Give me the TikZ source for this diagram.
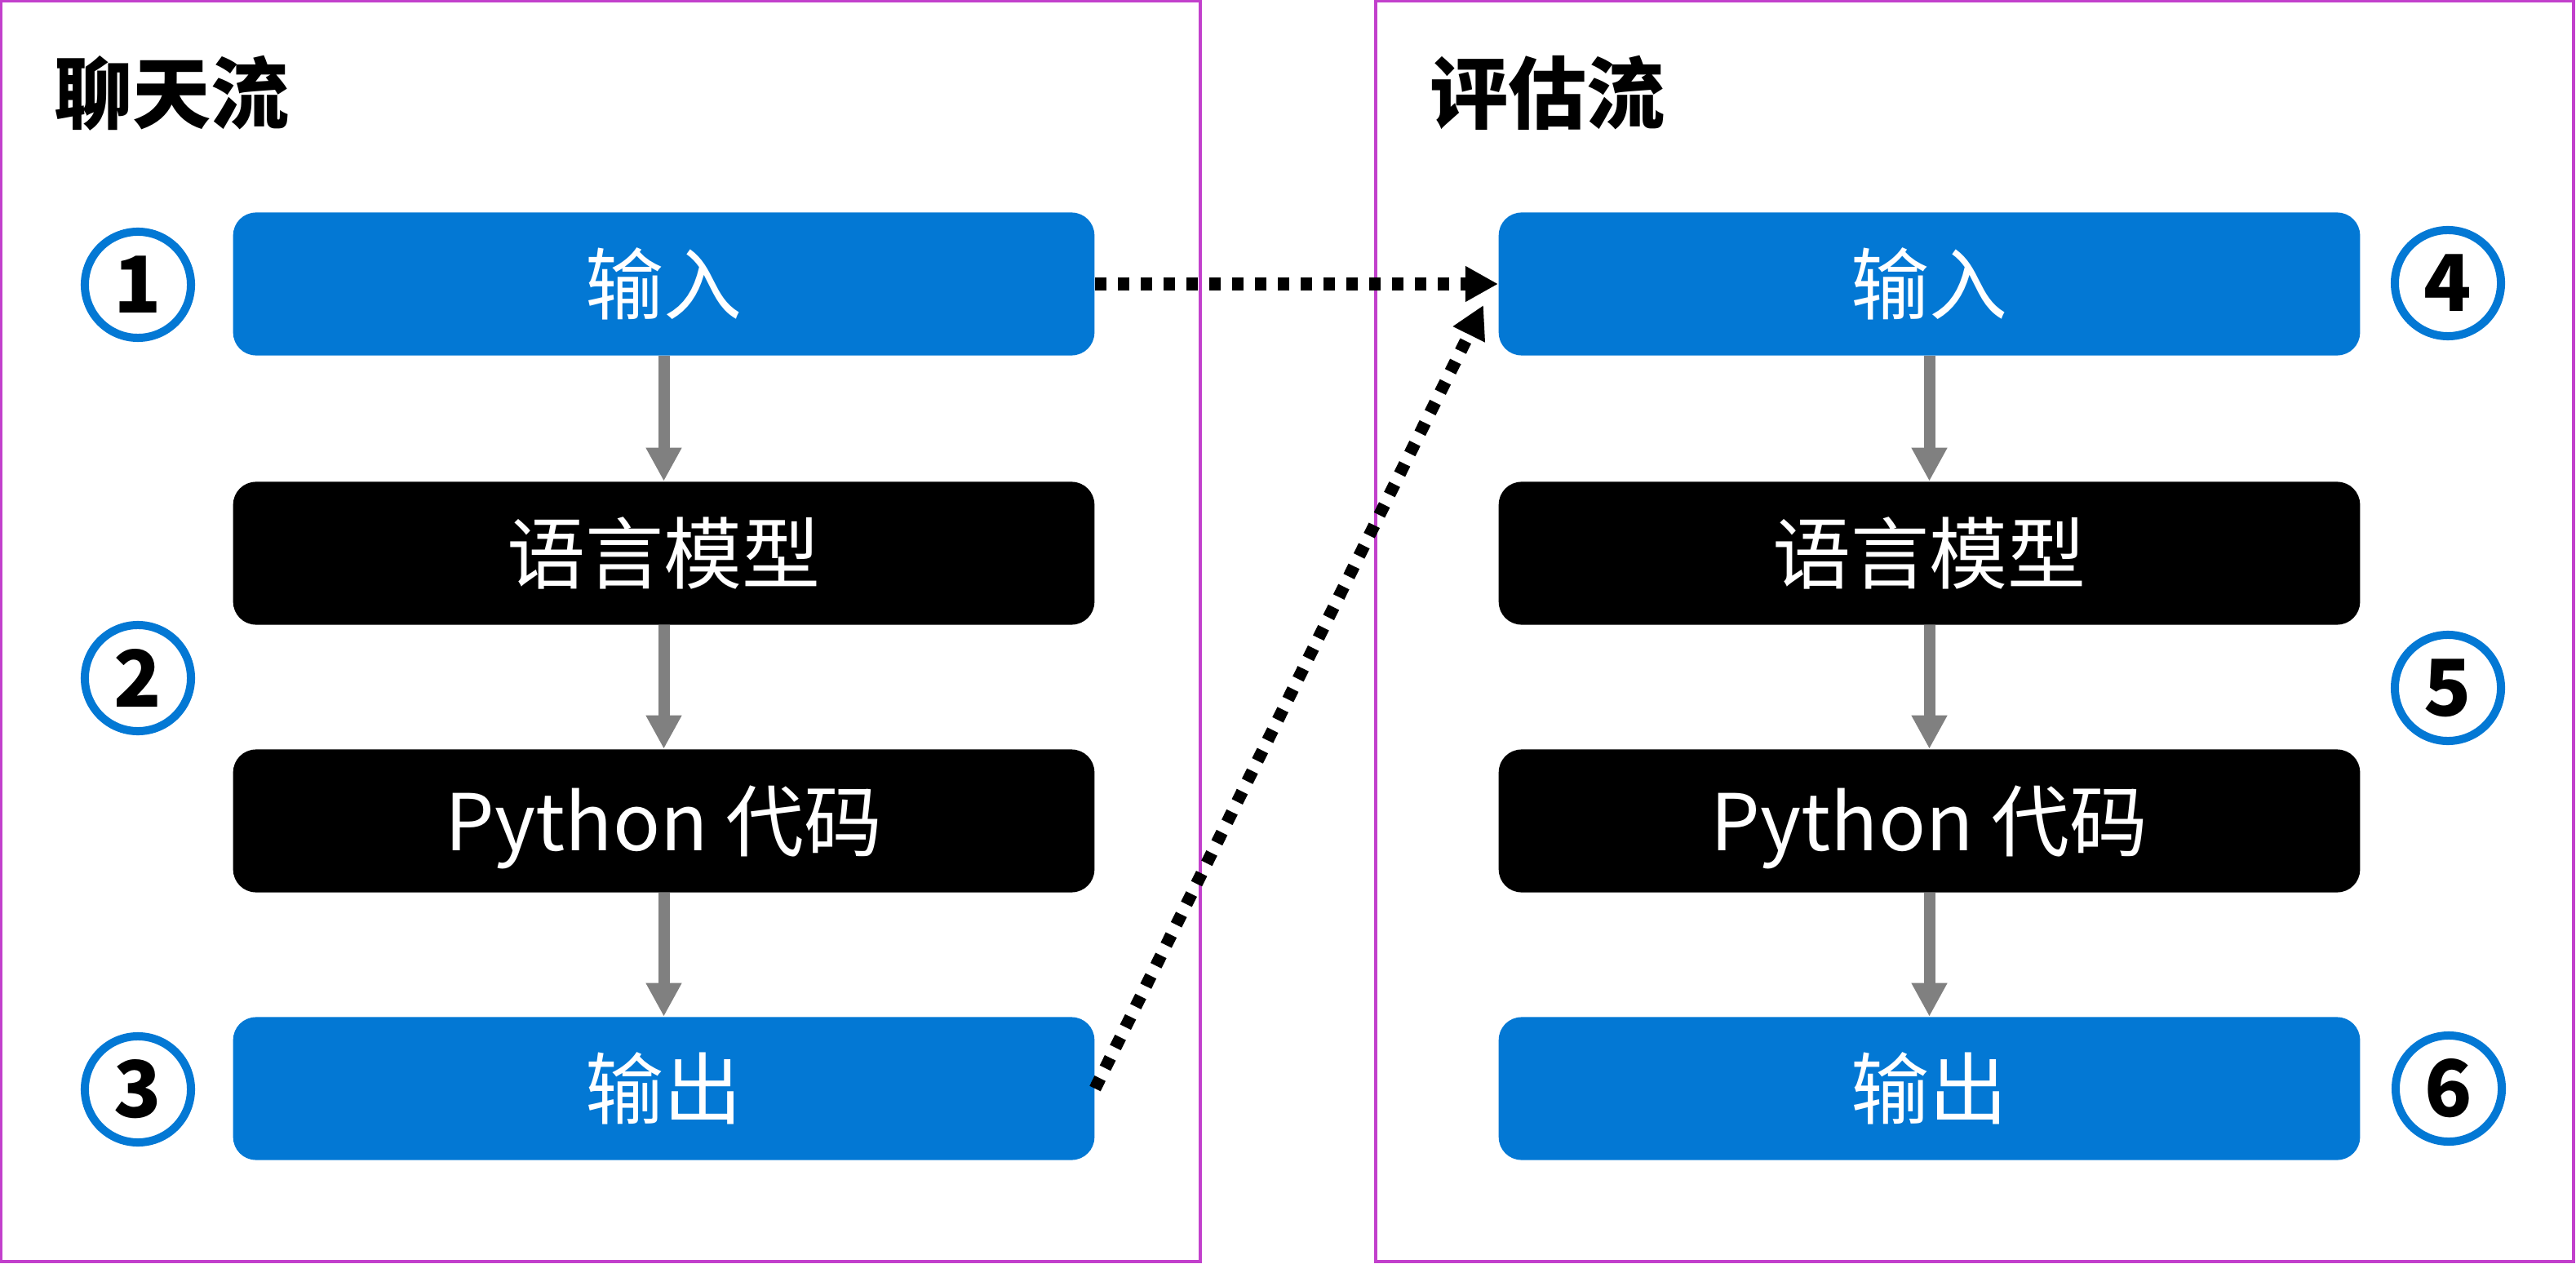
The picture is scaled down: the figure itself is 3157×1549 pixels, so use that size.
\documentclass[tikz,border=0pt]{standalone}
\usepackage{fontspec}
\setmainfont{Noto Sans CJK SC}
\usetikzlibrary{arrows.meta}
\definecolor{msblue}{RGB}{3,120,212}
\definecolor{framepink}{RGB}{194,64,204}
\definecolor{arrowgray}{RGB}{128,128,128}
\newcommand{\boxfont}{\fontsize{27.3}{32}\selectfont}
\tikzset{
	bluestyle/.style={rectangle,rounded corners=0.28cm,fill=msblue,text=white,minimum width=10.55cm,minimum height=1.75cm,text height=21.5pt,text depth=0.5pt,font=\boxfont},
	blackstyle/.style={bluestyle,fill=black},
	numstyle/.style={circle,draw=msblue,line width=0.1cm,fill=white,minimum size=1.3cm,inner sep=0,font=\bfseries\boxfont},
	titlestyle/.style={anchor=west,inner sep=0,font=\bfseries\boxfont},
	framestyle/.style={draw=framepink,line width=0.035cm},
	flowstyle/.style={draw=arrowgray,line width=0.14cm,-{Triangle[length=0.41cm,width=0.41cm]}},
	dotstyle/.style={draw=black,line width=0.15cm,dash pattern=on 0.14cm off 0.14cm,-{Triangle[length=0.4cm,width=0.41cm]}}
}
\begin{document}
\begin{tikzpicture}[x=0.01cm,y=-0.01cm]
	\useasboundingbox (0,0) rectangle (3157,1549);
	\draw[framestyle] (1.5,1.5) rectangle (1471,1546);
	\draw[framestyle] (1686,1.5) rectangle (3154,1546);
	\node[titlestyle] (ta) at (66,114) {聊天流};
	\node[titlestyle] (tb) at (1752,114) {评估流};
	\node[bluestyle] (a) at (813.5,348) {输入};
	\node[blackstyle] (b) at (813.5,678) {语言模型};
	\node[blackstyle] (c) at (813.5,1006) {Python 代码};
	\node[bluestyle] (d) at (813.5,1334) {输出};
	\node[bluestyle] (aa) at (2364.5,348) {输入};
	\node[blackstyle] (bb) at (2364.5,678) {语言模型};
	\node[blackstyle] (cc) at (2364.5,1006) {Python 代码};
	\node[bluestyle] (dd) at (2364.5,1334) {输出};
	\node[numstyle] (n1) at (169,349) {1};
	\node[numstyle] (n2) at (169,831) {2};
	\node[numstyle] (n3) at (169,1335) {3};
	\node[numstyle] (n4) at (3000,347) {4};
	\node[numstyle] (n5) at (3000,843) {5};
	\node[numstyle] (n6) at (3001,1334) {6};
	\draw[flowstyle] (a)--(b);
	\draw[flowstyle] (b)--(c);
	\draw[flowstyle] (c)--(d);
	\draw[flowstyle] (aa)--(bb);
	\draw[flowstyle] (bb)--(cc);
	\draw[flowstyle] (cc)--(dd);
	\coordinate (tip) at ([shift={(-18,26)}]aa.west);
	\draw[dotstyle] (a.east)--(aa.west);
	\draw[dotstyle] (d.east)--(tip);
\end{tikzpicture}
\end{document}
